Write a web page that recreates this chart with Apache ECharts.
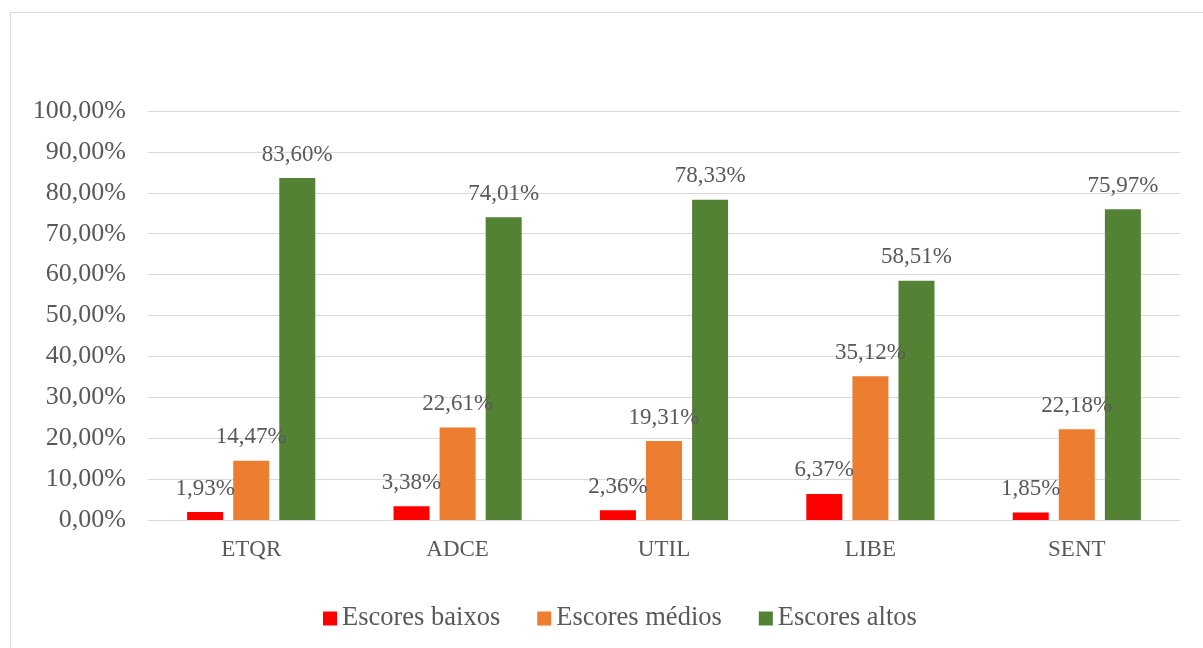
<!DOCTYPE html>
<html>
<head>
<meta charset="utf-8">
<script src="https://cdn.jsdelivr.net/npm/echarts@6/dist/echarts.min.js"></script>
<style>
  html, body { margin: 0; padding: 0; background: #fff; }
  #frame {
    position: absolute; left: 10px; top: 12px; width: 1200px; height: 650px;
    border: 1px solid #d9d9d9; box-sizing: border-box;
  }
  #chart { position: absolute; left: 0; top: 0; width: 1203px; height: 648px; }
</style>
</head>
<body>
<div id="frame"></div>
<div id="chart"></div>
<script>
const categories = ['ETQR', 'ADCE', 'UTIL', 'LIBE', 'SENT']
const baixos = [1.93, 3.38, 2.36, 6.37, 1.85]
const medios = [14.47, 22.61, 19.31, 35.12, 22.18]
const altos = [83.60, 74.01, 78.33, 58.51, 75.97]

const seriesColor = {
  baixos: '#ff0000',
  medios: '#ed7d31',
  altos: '#548235',
}

const font = 'Liberation Serif, Times New Roman, serif'
const textColor = '#595959'

function pct(v) {
  return v.toFixed(2).replace('.', ',') + '%'
}

function barSeries(name, data, color) {
  return {
    name: name,
    type: 'bar',
    data: data,
    barWidth: 36,
    barGap: '28%',
    itemStyle: { color: color },
    label: {
      show: true,
      position: 'top',
      distance: 12,
      formatter: (p) => pct(p.value),
      fontFamily: font,
      fontSize: 23,
      color: textColor,
    },
  }
}

const chart = echarts.init(document.getElementById('chart'))
chart.setOption({
  animation: false,
  grid: { left: 148, right: 23, top: 111, bottom: 128 },
  legend: {
    bottom: 11,
    left: 318,
    itemWidth: 14,
    itemHeight: 14,
    itemGap: 37,
    icon: 'rect',
    textStyle: { fontFamily: font, fontSize: 26.5, color: textColor },
    data: ['Escores baixos', 'Escores médios', 'Escores altos'],
  },
  xAxis: {
    type: 'category',
    data: categories,
    axisLine: { lineStyle: { color: '#d9d9d9' } },
    axisTick: { show: false },
    axisLabel: { fontFamily: font, fontSize: 23, color: textColor, margin: 18 },
  },
  yAxis: {
    type: 'value',
    min: 0,
    max: 100,
    interval: 10,
    axisLine: { show: false },
    axisTick: { show: false },
    splitLine: { lineStyle: { color: '#d9d9d9' } },
    axisLabel: {
      formatter: (v) => pct(v),
      fontFamily: font,
      fontSize: 26,
      color: textColor,
      margin: 22,
    },
  },
  series: [
    barSeries('Escores baixos', baixos, seriesColor.baixos),
    barSeries('Escores médios', medios, seriesColor.medios),
    barSeries('Escores altos', altos, seriesColor.altos),
  ],
})
</script>
</body>
</html>
